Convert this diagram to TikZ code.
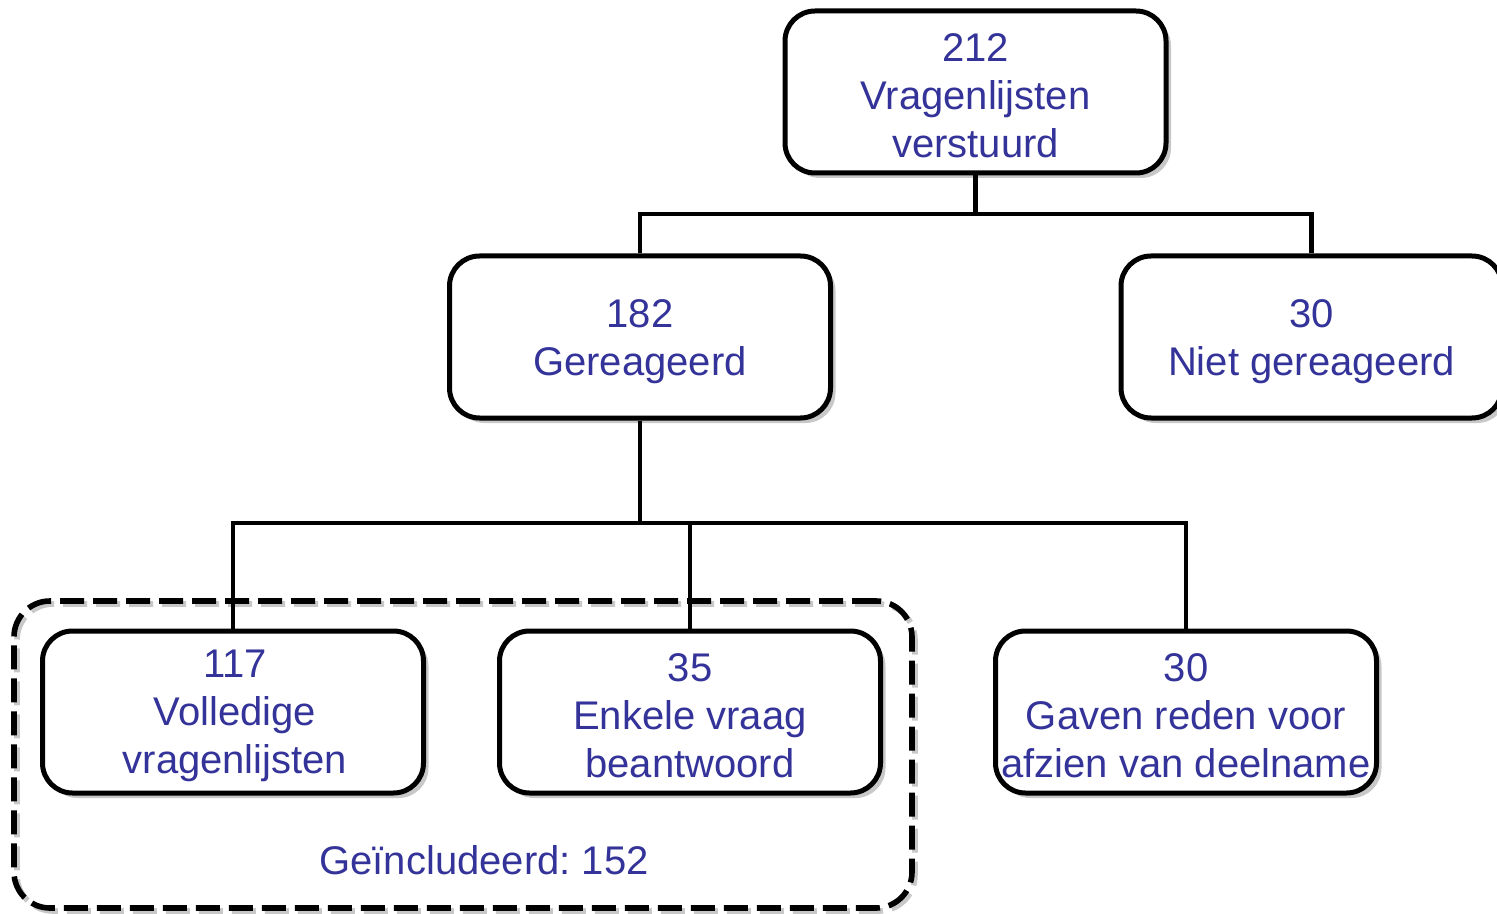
\documentclass[tikz,border=0pt]{standalone}
\usepackage{fontspec}
\setmainfont{Liberation Sans}
\usetikzlibrary{shadows}
\definecolor{txtblue}{RGB}{51,51,153}
\definecolor{shadowgray}{RGB}{200,200,200}
\frenchspacing
\begin{document}
\begin{tikzpicture}[x=0.5pt,y=-0.5pt,
  box/.style={draw=black, line width=2.5pt, rounded corners=15pt, fill=white,
    minimum width=190.5pt, minimum height=81pt, inner sep=0pt,
    drop shadow={shadow xshift=2.5pt, shadow yshift=-2.5pt, fill=shadowgray, opacity=1}},
  boxtxt/.style={align=center, text=txtblue, inner sep=0pt, font=\fontsize{20pt}{24pt}\selectfont},
  conn/.style={draw=black, line width=2.4pt},
  group/.style={draw=black, line width=2.8pt, rounded corners=18pt,
    dash pattern=on 12pt off 4.5pt, minimum width=449pt, minimum height=153.5pt, inner sep=0pt,
    drop shadow={shadow xshift=1.5pt, shadow yshift=-1.5pt, fill=none, draw=shadowgray, opacity=1}},
  lbl/.style={text=txtblue, font=\fontsize{20pt}{24pt}\selectfont, inner sep=0pt}]
\useasboundingbox (0,0) rectangle (1497,914);
\node[group] (incl) at (463,754.5) {};
\node[lbl] (incllbl) at (484,860) {Geïncludeerd: 152};
\node[box] (top) at (975.5,92) {};
\node[boxtxt] (toptxt) at ([yshift=-2pt]top.center) {212\\Vragenlijsten\\verstuurd};
\node[box] (react) at (640,337) {};
\node[boxtxt] (reacttxt) at ([yshift=-2.5pt]react.center) {182\\Gereageerd};
\node[box] (niet) at (1311.5,337) {};
\node[boxtxt] (niettxt) at ([yshift=-2.5pt]niet.center) {30\\Niet gereageerd};
\node[box] (vol) at (233,712) {};
\node[boxtxt] (voltxt) at ([yshift=-2pt,xshift=1pt]vol.center) {117\\Volledige\\vragenlijsten};
\node[box] (enk) at (690,712) {};
\node[boxtxt] (enktxt) at ([yshift=-2pt]enk.center) {35\\Enkele vraag\\beantwoord};
\node[box] (gaven) at (1186,712) {};
\node[boxtxt] (gaventxt) at ([yshift=-2pt]gaven.center) {30\\Gaven reden voor\\afzien van deelname};
\coordinate (j1) at (975.5,214);
\coordinate (j2) at (640,523);
\draw[conn] (top.south) -- (j1);
\draw[conn] (react.north) |- (j1) -| (niet.north);
\draw[conn] (react.south) -- (j2);
\draw[conn] (vol.north) |- (j2) -| (gaven.north);
\draw[conn] (enk.north) |- (j2);
\end{tikzpicture}
\end{document}
